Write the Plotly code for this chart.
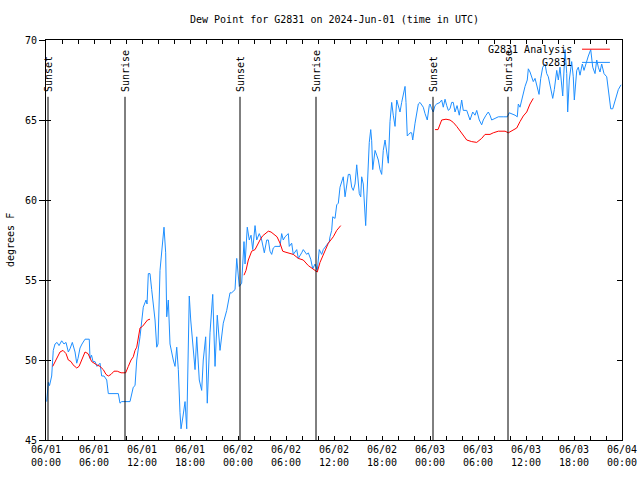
import pandas as pd
import plotly.graph_objects as go

BASE = pd.Timestamp("2024-06-01 00:00")

# G2831 observations: hours since 06/01 00:00 UTC, dew point (F)
obs_hours = [0.09, 0.29, 0.44, 0.71, 0.91, 1.13, 1.38, 1.63, 1.96, 2.25, 2.5, 2.79, 3.0, 3.29, 3.63, 3.84, 4.0, 4.25,
             4.5, 4.88, 5.41, 5.5, 5.69, 5.88, 6.13, 6.38, 6.75, 6.96, 7.25, 7.59, 7.79, 9.04, 9.25, 9.46, 10.5, 10.91,
             11.13, 11.34, 11.75, 12.16, 12.5, 12.63, 12.79, 13.0, 13.21, 13.63, 13.84, 14.0, 14.25, 14.54, 14.75,
             14.96, 15.09, 15.29, 15.5, 15.91, 16.13, 16.34, 16.54, 16.75, 16.88, 17.13, 17.38, 17.59, 17.79, 17.91,
             18.09, 18.34, 18.63, 18.84, 19.16, 19.46, 19.66, 19.96, 20.16, 20.5, 20.84, 21.13, 21.41, 21.75, 22.16,
             22.59, 23.0, 23.21, 23.63, 23.84, 24.16, 24.46, 24.75, 24.88, 25.16, 25.41, 25.63, 25.84, 26.13, 26.34,
             26.66, 26.96, 27.29, 27.59, 27.79, 28.0, 28.21, 28.41, 28.63, 29.25, 29.46, 29.66, 29.88, 30.29, 30.41,
             30.71, 30.91, 31.34, 31.54, 31.96, 32.16, 32.59, 32.79, 33.09, 33.34, 33.63, 33.91, 34.16, 34.46, 34.66,
             35.09, 35.41, 35.5, 35.71, 35.84, 36.13, 36.34, 36.54, 36.75, 36.96, 37.16, 37.38, 37.59, 37.79, 38.0,
             38.21, 38.41, 38.63, 38.84, 39.0, 39.16, 39.34, 39.46, 39.66, 39.88, 39.96, 40.09, 40.29, 40.41, 40.59,
             40.71, 40.84, 41.0, 41.13, 41.34, 41.54, 41.75, 41.96, 42.16, 42.38, 42.59, 42.79, 43.0, 43.21, 43.41,
             43.63, 43.84, 44.04, 44.25, 44.46, 44.66, 44.88, 45.0, 45.16, 45.34, 45.5, 45.71, 45.84, 46.13, 46.34,
             46.54, 46.75, 47.16, 47.38, 47.59, 47.66, 47.91, 48.0, 48.21, 48.41, 48.63, 48.84, 49.25, 49.46, 49.66,
             49.88, 50.09, 50.29, 50.5, 50.71, 50.91, 51.13, 51.38, 51.66, 51.96, 52.16, 52.59, 53.0, 53.34, 53.63,
             53.84, 54.16, 54.46, 54.66, 55.0, 55.29, 55.5, 55.71, 56.13, 56.54, 57.16, 57.66, 57.91, 58.21, 58.63,
             58.91, 59.04, 59.25, 59.46, 59.66, 59.88, 60.16, 60.29, 60.5, 60.71, 60.91, 61.13, 61.34, 61.63, 61.84,
             62.09, 62.38, 62.59, 62.79, 63.0, 63.34, 63.54, 63.84, 64.04, 64.25, 64.59, 64.88, 65.09, 65.21, 65.41,
             65.71, 65.91, 66.04, 66.34, 66.54, 66.75, 67.04, 67.25, 67.59, 67.79, 68.09, 68.34, 68.63, 68.84, 69.04,
             69.25, 69.46, 69.75, 70.09, 70.29, 70.59, 70.84, 71.13, 71.54, 71.88]
obs_dewpt = [47.4, 48.6, 48.4, 49.0, 50.6, 51.0, 51.1, 50.9, 51.2, 51.0, 51.1, 50.5, 50.7, 51.1, 50.5, 49.8, 50.1, 50.75,
             51.0, 51.3, 51.3, 50.1, 50.3, 49.9, 49.9, 49.6, 49.8, 49.0, 49.0, 48.75, 47.9, 47.9, 47.3, 47.4, 47.4, 48.3,
             48.4, 50.0, 51.45, 53.3, 53.75, 53.5, 55.4, 55.4, 54.4, 52.5, 50.8, 51.0, 55.6, 57.5, 58.3,
             56.7, 52.7, 53.75, 51.0, 50.0, 49.6, 50.8, 49.4, 46.7, 45.7, 46.5, 47.4, 45.7, 50.7, 54.0,
             52.5, 51.0, 49.4, 51.45, 48.75, 48.1, 50.0, 51.45, 47.3, 51.7, 54.1, 49.6, 52.8, 50.6, 52.3,
             53.1, 54.2, 54.2, 54.4, 56.35, 54.6, 54.8, 57.4, 56.0, 58.3, 57.5, 57.8, 56.9, 58.4, 57.5,
             57.9, 57.5, 56.7, 57.5, 57.5, 56.8, 56.6, 57.0, 57.1, 57.1, 57.9, 57.5, 57.7, 57.9, 57.1,
             57.3, 56.6, 56.9, 56.35, 56.7, 56.9, 56.6, 56.7, 56.3, 55.7, 56.0, 55.6, 56.9, 56.6, 56.9,
             57.2, 57.4, 57.7, 58.1, 58.95, 58.85, 59.7, 59.8, 60.8, 61.1, 61.45, 60.2, 60.8, 61.6, 61.6,
             60.8, 60.6, 61.0, 62.2, 61.3, 60.4, 60.2, 61.45, 61.0, 59.2, 58.4, 60.0, 61.9, 63.6, 64.4,
             63.7, 61.9, 62.6, 63.1, 62.8, 62.5, 61.9, 61.6, 63.1, 63.75, 63.0, 62.3, 64.9, 66.1, 65.3,
             64.6, 66.25, 65.8, 65.5, 66.1, 66.7, 67.1, 66.1, 64.0, 64.1, 64.2, 64.2, 63.75, 64.8, 65.5,
             66.0, 66.1, 65.8, 65.4, 65.0, 65.0, 65.9, 66.0, 65.7, 65.5, 65.9, 66.0, 66.1, 66.25, 65.8,
             66.3, 65.9, 65.6, 65.7, 66.1, 66.1, 65.5, 65.9, 65.3, 66.25, 65.6, 65.6, 65.0, 65.5, 65.3,
             65.6, 65.0, 64.7, 65.0, 65.3, 65.5, 65.3, 65.0, 65.1, 65.2, 65.2, 65.2, 65.45, 65.4, 65.3,
             65.2, 66.0, 65.8, 66.25, 66.5, 67.1, 67.5, 68.2, 68.0, 67.7, 67.4, 67.6, 67.1, 66.6, 67.6,
             68.3, 68.5, 67.9, 67.7, 67.1, 66.35, 66.9, 68.1, 67.5, 68.3, 66.5, 69.4, 67.9, 65.5, 67.5,
             68.65, 67.7, 66.25, 68.1, 68.3, 67.8, 68.5, 68.1, 68.75, 69.0, 69.4, 68.3, 67.9, 68.75, 68.3,
             68.0, 68.5, 67.9, 67.7, 66.9, 65.7, 65.7, 66.25, 66.9, 67.2]

# G2831 Analysis (three segments)
ana1_hours = [0.84, 1.25, 1.75, 2.13, 2.5, 2.79, 3.13, 3.38, 3.84, 4.13, 4.5, 4.88, 5.25, 5.71, 6.34, 6.75, 7.16, 7.5,
              7.79, 8.13, 8.5, 8.91, 9.38, 9.96, 10.29, 10.63, 10.91, 11.13, 11.34, 11.56, 11.75, 12.06, 12.38, 12.69, 13.0]
ana1_dewpt = [49.6, 50.0, 50.5, 50.6, 50.4, 50.0, 49.9, 49.7, 49.5, 49.6, 50.1, 50.5, 50.4, 49.9, 49.7, 49.6, 49.4, 49.1,
              49.0, 49.1, 49.3, 49.3, 49.2, 49.2, 49.6, 50.0, 50.2, 50.6, 50.8, 51.5, 52.0, 52.1, 52.3, 52.5, 52.55]
ana2_hours = [24.75, 25.0, 25.29, 25.71, 26.13, 26.5, 26.75, 27.06, 27.38, 27.79, 28.13, 28.41, 28.88, 29.25, 29.59,
              29.88, 30.29, 30.91, 31.54, 32.16, 32.79, 33.34, 33.91, 34.25, 34.88, 35.29, 35.91, 36.34, 36.84]
ana2_dewpt = [55.3, 55.6, 56.25, 56.8, 56.9, 57.3, 57.5, 57.75, 57.9, 58.05, 58.0, 57.9, 57.7, 57.3, 56.8,
              56.75, 56.7, 56.6, 56.35, 56.25, 55.9, 55.7, 55.5, 56.1, 56.8, 57.3, 57.7, 58.1, 58.4]
ana3_hours = [48.63, 49.0, 49.46, 50.0, 50.5, 50.91, 51.34, 51.75, 52.16, 52.59, 53.21, 53.84, 54.46, 54.88, 55.5,
              55.91, 56.54, 57.0, 57.38, 57.79, 58.34, 58.84, 59.25, 59.66, 60.09, 60.5, 60.91]
ana3_dewpt = [64.4, 64.4, 65.0, 65.05, 65.0, 64.85, 64.6, 64.3, 64.05, 63.75, 63.65, 63.6, 63.85, 64.1, 64.1,
              64.2, 64.3, 64.3, 64.3, 64.2, 64.35, 64.5, 64.9, 65.25, 65.5, 66.0, 66.35]

# Sun events (hours since 06/01 00:00 UTC)
sun_labels = ["Sunset", "Sunrise", "Sunset", "Sunrise", "Sunset", "Sunrise"]
sun_hours = [0.25, 9.875, 24.25, 33.75, 48.375, 57.75]

y_ticks = [45, 50, 55, 60, 65, 70]


def to_time(hours):
    return [BASE + pd.Timedelta(hours=h) for h in hours]


FONT = "DejaVu Sans Mono"
BLUE = "#1E8FFF"
RED = "#FF0000"

ana_x, ana_y = [], []
for hs, vs in [(ana1_hours, ana1_dewpt), (ana2_hours, ana2_dewpt), (ana3_hours, ana3_dewpt)]:
    ana_x += to_time(hs) + [None]
    ana_y += vs + [None]

fig = go.Figure()
fig.add_trace(go.Scatter(x=to_time(obs_hours), y=obs_dewpt, mode="lines",
                         line=dict(color=BLUE, width=1), name="G2831", showlegend=False))
fig.add_trace(go.Scatter(x=ana_x, y=ana_y, mode="lines", connectgaps=False,
                         line=dict(color=RED, width=1), name="G2831 Analysis", showlegend=False))
fig.add_trace(go.Scatter(x=[None], y=[None], yaxis="y2", showlegend=False, hoverinfo="skip"))

shapes = []
annotations = []
for lab, h in zip(sun_labels, sun_hours):
    t = BASE + pd.Timedelta(hours=h)
    shapes.append(dict(type="line", xref="x", yref="y", x0=t, x1=t, y0=45, y1=66.45,
                       line=dict(color="black", width=1)))
    annotations.append(dict(x=t, y=66.62, xref="x", yref="y", text=lab, textangle=-90,
                            showarrow=False, xanchor="center", yanchor="bottom",
                            font=dict(family=FONT, size=10, color="black")))

# legend (text left of the line sample)
legend_items = [("G2831 Analysis", RED, 0.977), ("G2831", BLUE, 0.944)]
for txt, col, yy in legend_items:
    annotations.append(dict(x=0.9167, y=yy, xref="paper", yref="paper", text=txt, showarrow=False,
                            xanchor="right", yanchor="middle", font=dict(family=FONT, size=10, color="black")))
    shapes.append(dict(type="line", xref="paper", yref="paper", x0=0.9306, x1=0.979, y0=yy, y1=yy,
                       line=dict(color=col, width=1)))

annotations.append(dict(x=0.5, y=1.05, xref="paper", yref="paper",
                        text="Dew Point for G2831 on 2024-Jun-01 (time in UTC)", showarrow=False,
                        xanchor="center", yanchor="middle", font=dict(family=FONT, size=10, color="black")))
annotations.append(dict(x=-0.0625, y=0.5, xref="paper", yref="paper", text="degrees F", textangle=-90,
                        showarrow=False, xanchor="center", yanchor="middle",
                        font=dict(family=FONT, size=10, color="black")))

fig.update_layout(
    width=640, height=480,
    margin=dict(l=46, r=18, t=40, b=40, autoexpand=False),
    paper_bgcolor="white", plot_bgcolor="white",
    font=dict(family=FONT, size=10, color="black"),
    showlegend=False,
    shapes=shapes, annotations=annotations,
    xaxis=dict(range=[BASE, BASE + pd.Timedelta(hours=72)], type="date", automargin=False,
               tick0=BASE, dtick=6 * 3600 * 1000, tickformat="%m/%d<br>%H:%M",
               ticks="inside", ticklen=4, tickcolor="black", mirror="allticks",
               showline=True, linecolor="black", linewidth=1, showgrid=False, zeroline=False,
               minor=dict(dtick=2 * 3600 * 1000, ticks="inside", ticklen=4, tickcolor="black", showgrid=False),
               tickfont=dict(family=FONT, size=10, color="black")),
    yaxis=dict(range=[45, 70], tickvals=y_ticks, ticks="outside", ticklen=6, tickcolor="black", automargin=False,
               showline=True, linecolor="black", linewidth=1, showgrid=False, zeroline=False,
               tickfont=dict(family=FONT, size=10, color="black")),
    yaxis2=dict(range=[45, 70], tickvals=y_ticks, overlaying="y", side="right", ticks="inside", ticklen=5,
                tickcolor="black", mirror="ticks", showticklabels=False, showline=True, linecolor="black",
                linewidth=1, showgrid=False, zeroline=False, automargin=False),
)

fig.write_html("out.html")
